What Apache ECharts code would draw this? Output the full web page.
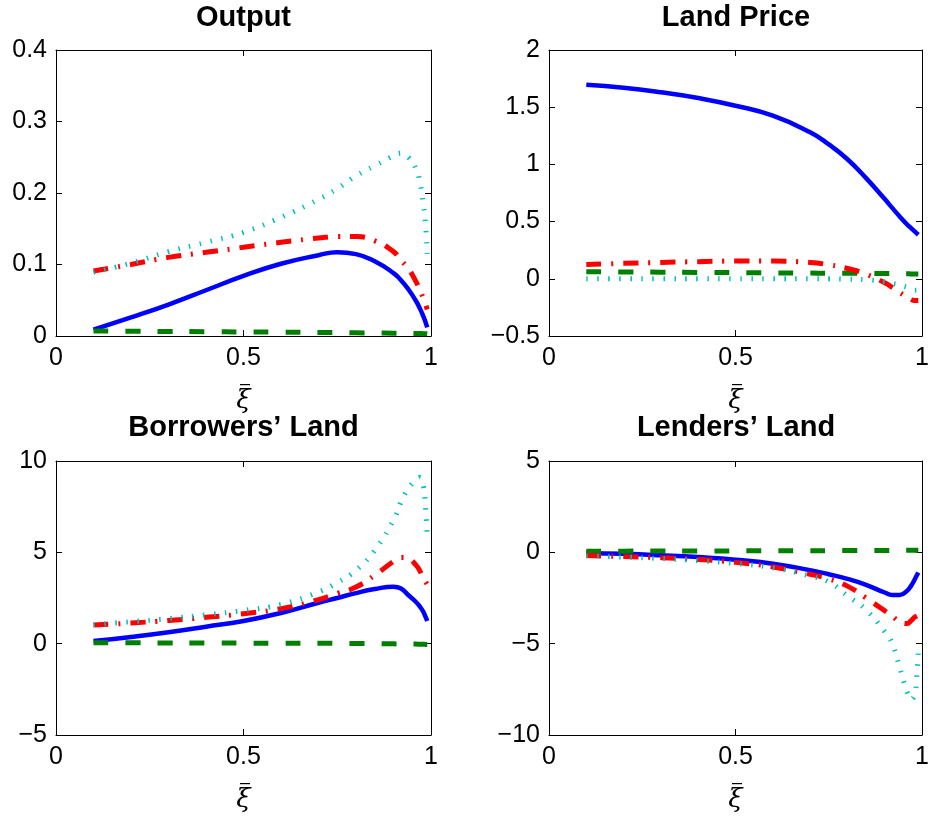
<!DOCTYPE html>
<html><head><meta charset="utf-8">
<script src="https://cdn.jsdelivr.net/npm/echarts@6/dist/echarts.min.js"></script>
<style>html,body{margin:0;padding:0;background:#fff}#c{width:932px;height:818px}</style>
</head><body><div id="c"></div>
<script>
// shared x grid (xi-bar)
const xi = [0.1,0.2,0.3,0.4,0.5,0.6,0.7,0.75,0.8,0.85,0.9,0.92,0.94,0.96,0.97,0.98,0.985,0.99];

// Output
const outBlue  = [0.009,0.026,0.044,0.064,0.084,0.101,0.113,0.1172,0.1145,0.1045,0.088,0.078,0.065,0.049,0.039,0.027,0.020,0.012];
const outRed   = [0.091,0.100,0.110,0.117,0.124,0.131,0.137,0.139,0.139,0.133,0.118,0.106,0.094,0.076,0.065,0.052,0.045,0.037];
const outCyan  = [0.089,0.102,0.118,0.131,0.145,0.166,0.191,0.206,0.224,0.238,0.252,0.2555,0.25,0.234,0.216,0.183,0.158,0.115];
const outGreen = [0.007,0.0067,0.0063,0.006,0.0057,0.0053,0.005,0.0048,0.0045,0.0042,0.004,0.0038,0.0037,0.0035,0.0034,0.0033,0.0032,0.003];

// Land Price
const lpBlue  = [1.697,1.67,1.63,1.58,1.513,1.426,1.28,1.175,1.045,0.88,0.697,0.62,0.545,0.475,0.445,0.415,0.40,0.385];
const lpRed   = [0.125,0.135,0.143,0.15,0.155,0.155,0.143,0.122,0.09,0.04,-0.035,-0.075,-0.12,-0.16,-0.18,-0.19,-0.19,-0.19];
const lpCyan  = [0,0,0,0,0,0,0,0,-0.003,-0.008,-0.025,-0.04,-0.055,-0.075,-0.09,-0.1,-0.1,-0.095];
const lpGreen = [0.062,0.06,0.058,0.056,0.054,0.052,0.05,0.049,0.048,0.047,0.046,0.045,0.044,0.044,0.043,0.043,0.042,0.042];

// Borrowers' Land
const blBlue  = [0.14,0.37,0.63,0.93,1.24,1.68,2.24,2.5,2.77,2.99,3.12,3.02,2.65,2.28,2.04,1.73,1.49,1.24];
const blRed   = [1.02,1.13,1.27,1.44,1.64,1.92,2.41,2.75,3.1,3.75,4.5,4.72,4.65,4.3,4.0,3.55,3.4,3.25];
const blCyan  = [1.04,1.2,1.37,1.58,1.82,2.15,2.83,3.35,4.02,5.12,6.76,7.75,8.5,8.95,9.1,8.6,7.5,5.85];
const blGreen = [0.05,0.045,0.04,0.035,0.03,0.025,0.02,0.015,0.01,0.0,-0.01,-0.015,-0.02,-0.025,-0.03,-0.035,-0.04,-0.04];

// Lenders' Land
const llBlue  = [-0.03,-0.08,-0.16,-0.26,-0.4,-0.62,-0.98,-1.2,-1.45,-1.78,-2.2,-2.33,-2.33,-2.1,-1.85,-1.5,-1.3,-1.1];
const llRed   = [-0.18,-0.23,-0.29,-0.39,-0.55,-0.8,-1.2,-1.45,-1.85,-2.5,-3.2,-3.5,-3.8,-3.9,-3.75,-3.55,-3.5,-3.45];
const llCyan  = [-0.2,-0.26,-0.34,-0.46,-0.61,-0.84,-1.3,-1.62,-2.38,-3.15,-4.35,-5.0,-6.3,-7.65,-8.05,-7.8,-7.0,-5.4];
const llGreen = [0.06,0.065,0.07,0.075,0.08,0.085,0.09,0.092,0.095,0.1,0.105,0.108,0.11,0.113,0.115,0.117,0.118,0.12];

const titles = ['Output', 'Land Price', 'Borrowers\u2019 Land', 'Lenders\u2019 Land'];
const xTicks = [0, 1, 0.5];          // min, max, interval
const yRanges = [[0, 0.4, 0.1], [-0.5, 2, 0.5], [-5, 10, 5], [-10, 5, 5]];

const panels = [
  [outBlue, outGreen, outRed, outCyan],
  [lpBlue, lpGreen, lpRed, lpCyan],
  [blBlue, blGreen, blRed, blCyan],
  [llBlue, llGreen, llRed, llCyan]
];

const grids = [
  {left: 56, top: 50, width: 375, height: 286},
  {left: 549, top: 50, width: 374, height: 286},
  {left: 56, top: 461, width: 375, height: 274},
  {left: 549, top: 461, width: 374, height: 274}
];

const styles = [
  {color: '#0000ff', width: 4.5, type: 'solid'},
  {color: '#008000', width: 5, type: [15, 17]},
  {color: '#ff0000', width: 5, type: [15, 10, 2, 10]},
  {color: '#00bfbf', width: 5, type: [1.5, 9.5]}
];

const fmt = v => String(v).replace('-', '\u2212');
const lblStyle = {color: '#000', fontFamily: 'Liberation Sans', fontSize: 25};
const lineStyle = {show: true, onZero: false, lineStyle: {color: '#000', width: 1}};
const tick = {show: true, inside: true, length: 6, lineStyle: {color: '#000', width: 1}};

const xAxes = [], yAxes = [], series = [], graphics = [];
grids.forEach((g, i) => {
  const base = {type: 'value', gridIndex: i, min: xTicks[0], max: xTicks[1], interval: xTicks[2],
    splitLine: {show: false}, axisLine: lineStyle, axisTick: tick};
  xAxes.push(Object.assign({}, base, {position: 'bottom',
    axisLabel: Object.assign({margin: 10, formatter: fmt}, lblStyle),
    name: '{bar|\u2013}\n{xi|\u03BE}', nameLocation: 'middle', nameGap: 44,
    nameTextStyle: {color: '#000', verticalAlign: 'top',
      rich: {
        bar: {fontFamily: 'Liberation Sans', fontSize: 18, lineHeight: 8, color: '#000', padding: [0, 0, 0, 3]},
        xi: {fontFamily: 'DejaVu Serif', fontStyle: 'italic', fontSize: 26, lineHeight: 26, color: '#000'}
      }}}));
  xAxes.push(Object.assign({}, base, {position: 'top', axisLabel: {show: false}}));
  const yr = yRanges[i];
  const ybase = {type: 'value', gridIndex: i, min: yr[0], max: yr[1], interval: yr[2],
    splitLine: {show: false}, axisLine: lineStyle, axisTick: tick};
  yAxes.push(Object.assign({}, ybase, {position: 'left',
    axisLabel: Object.assign({margin: 9, formatter: fmt}, lblStyle)}));
  yAxes.push(Object.assign({}, ybase, {position: 'right', axisLabel: {show: false}}));
  panels[i].forEach((vals, k) => {
    series.push({
      type: 'line', xAxisIndex: 2 * i, yAxisIndex: 2 * i,
      data: xi.map((x, j) => [x, vals[j]]),
      showSymbol: false, smooth: 0.5, silent: true, animation: false,
      lineStyle: {color: styles[k].color, width: styles[k].width, type: styles[k].type, cap: 'butt'}
    });
  });
  graphics.push({type: 'text', x: g.left + g.width / 2, y: i < 2 ? 18 : 428,
    style: {text: titles[i], fontFamily: 'Liberation Sans', fontWeight: 'bold', fontSize: 29,
      fill: '#000', align: 'center', verticalAlign: 'middle'}});
});

const chart = echarts.init(document.getElementById('c'), null, {renderer: 'canvas'});
chart.setOption({
  animation: false,
  backgroundColor: '#fff',
  grid: grids,
  xAxis: xAxes,
  yAxis: yAxes,
  series: series,
  graphic: graphics
});
</script></body></html>
